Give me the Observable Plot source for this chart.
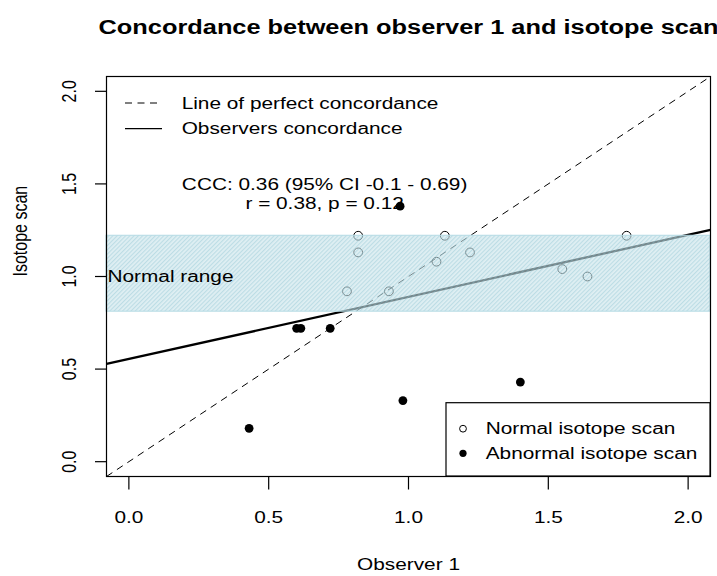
<!DOCTYPE html>
<html>
<head>
<meta charset="utf-8">
<script src="https://cdn.jsdelivr.net/npm/d3@7"></script>
<script src="https://cdn.jsdelivr.net/npm/@observablehq/plot@0.6"></script>
<style>
  body { margin: 0; background: #fff; }
  #chart svg { display: block; }
</style>
</head>
<body>
<div id="chart"></div>
<script>
// ---- data ----
const titleText = "Concordance between observer 1 and isotope scan";
const xLabel = "Observer 1";
const yLabel = "Isotope scan";
const xTicks = [0, 0.5, 1, 1.5, 2];
const yTicks = [0, 0.5, 1, 1.5, 2];
const axisDomain = [-0.08, 2.08];

const normalX = [0.82, 0.82, 1.13, 1.22, 1.10, 0.78, 0.93, 1.55, 1.64, 1.78];
const normalY = [1.22, 1.13, 1.22, 1.13, 1.08, 0.92, 0.92, 1.04, 1.00, 1.22];
const abnormalX = [0.97, 0.60, 0.615, 0.72, 1.40, 0.98, 0.43];
const abnormalY = [1.38, 0.72, 0.72, 0.72, 0.43, 0.33, 0.18];

const normalRange = [0.81, 1.22];
const bandLabel = "Normal range";
const bandLabelY = 1.0;

const regIntercept = 0.555;
const regSlope = 0.335;

const cccLines = ["CCC: 0.36 (95% CI -0.1 - 0.69)", "r = 0.38, p = 0.12"];
const cccX = 0.7;
const cccY = 1.45;

const lineLegend = ["Line of perfect concordance", "Observers concordance"];
const pointLegend = ["Normal isotope scan", "Abnormal isotope scan"];

// ---- derived tables ----
const normalPts = normalX.map((x, i) => ({x, y: normalY[i]}));
const abnormalPts = abnormalX.map((x, i) => ({x, y: abnormalY[i]}));
const identity = [{x1: axisDomain[0], y1: axisDomain[0], x2: axisDomain[1], y2: axisDomain[1]}];
const regLine = [{
  x1: axisDomain[0], y1: regIntercept + regSlope * axisDomain[0],
  x2: axisDomain[1], y2: regIntercept + regSlope * axisDomain[1]
}];

const FS = 16;
const fmt = d3.format(".1f");

function legends(index, scales, values, dim) {
  const g = d3.create("svg:g").attr("class", "legend-group");
  const L = dim.marginLeft, T = dim.marginTop;
  const R = dim.width - dim.marginRight, B = dim.height - dim.marginBottom;
  // top-left line legend (no box)
  const rows = [T + 27, T + 52.7];
  g.append("line").attr("x1", L + 19).attr("x2", L + 56).attr("y1", rows[0]).attr("y2", rows[0])
    .attr("stroke", "black").attr("stroke-width", 1).attr("stroke-dasharray", "7,5.5");
  g.append("line").attr("x1", L + 19).attr("x2", L + 56).attr("y1", rows[1]).attr("y2", rows[1])
    .attr("stroke", "black").attr("stroke-width", 1.2);
  lineLegend.forEach((s, i) => {
    g.append("text").attr("x", L + 75.7).attr("y", rows[i]).attr("dy", "0.35em")
      .attr("text-anchor", "start").attr("font-size", FS).attr("fill", "black").text(s);
  });
  // bottom-right point legend (boxed)
  const bx = 446, by = 402.7;
  g.append("rect").attr("x", bx).attr("y", by).attr("width", R - bx).attr("height", B - by)
    .attr("fill", "white").attr("stroke", "black").attr("stroke-width", 1.2);
  const prow = [428.7, 453.3];
  g.append("circle").attr("cx", 463).attr("cy", prow[0]).attr("r", 3.4)
    .attr("fill", "none").attr("stroke", "black").attr("stroke-width", 1);
  g.append("circle").attr("cx", 463).attr("cy", prow[1]).attr("r", 3.6)
    .attr("fill", "black");
  pointLegend.forEach((s, i) => {
    g.append("text").attr("x", 485.7).attr("y", prow[i]).attr("dy", "0.35em")
      .attr("text-anchor", "start").attr("font-size", FS).attr("fill", "black").text(s);
  });
  return g.node();
}

const plot = Plot.plot({
  width: 717,
  height: 576,
  marginLeft: 106,
  marginRight: 7,
  marginTop: 76,
  marginBottom: 100,
  style: {fontFamily: "'Liberation Sans', Arial, sans-serif", fontSize: "16px", background: "white", color: "black"},
  x: {domain: axisDomain, label: null},
  y: {domain: axisDomain, label: null},
  marks: [
    Plot.dot(normalPts, {x: "x", y: "y", r: 4.4, stroke: "black", fill: "none", strokeWidth: 1}),
    Plot.dot(abnormalPts, {x: "x", y: "y", r: 4.4, fill: "black", stroke: "none"}),
    Plot.link(identity, {x1: "x1", y1: "y1", x2: "x2", y2: "y2", stroke: "black", strokeWidth: 1, strokeDasharray: "7,5.5"}),
    Plot.link(regLine, {x1: "x1", y1: "y1", x2: "x2", y2: "y2", stroke: "black", strokeWidth: 2.3}),
    Plot.rect([normalRange], {x1: () => axisDomain[0], x2: () => axisDomain[1], y1: d => d[0], y2: d => d[1],
      fill: "#c8e3ea", fillOpacity: 0.75}),
    Plot.text([bandLabel], {y: () => bandLabelY, frameAnchor: "left", textAnchor: "start", dx: 1, fontSize: FS, fill: "black"}),
    Plot.text([cccLines.join("\n")], {x: () => cccX, y: () => cccY, fontSize: FS, lineHeight: 1.2, fill: "black"}),
    Plot.frame({stroke: "black", strokeWidth: 1.2}),
    Plot.axisX({ticks: xTicks, tickFormat: fmt, tickSize: 13.5, tickPadding: 21.6, fontSize: FS, strokeWidth: 1.2, label: null}),
    Plot.axisY({ticks: yTicks, tickFormat: fmt, tickSize: 11, tickPadding: 20, tickRotate: -90, fontSize: FS, strokeWidth: 1.2, label: null}),
    Plot.text([xLabel], {frameAnchor: "bottom", dy: 93, lineAnchor: "bottom", fontSize: FS, fill: "black"}),
    Plot.text([yLabel], {frameAnchor: "left", dx: -80, rotate: -90, lineAnchor: "bottom", fontSize: FS, fill: "black"}),
    Plot.text([titleText], {frameAnchor: "top", dy: -43, lineAnchor: "bottom", fontSize: 19.5, fontWeight: "bold", fill: "black"}),
    legends
  ]
});

document.getElementById("chart").appendChild(plot);

// hatched band pattern
const svgNS = "http://www.w3.org/2000/svg";
const defs = document.createElementNS(svgNS, "defs");
defs.innerHTML = '<pattern id="hatch" patternUnits="userSpaceOnUse" width="3" height="3" patternTransform="rotate(45)">' +
  '<rect width="3" height="3" fill="#c9e4eb" fill-opacity="0.78"/>' +
  '<line x1="0.6" y1="0" x2="0.6" y2="3" stroke="#a3d0db" stroke-width="1.1"/></pattern>';
plot.insertBefore(defs, plot.firstChild);
plot.querySelectorAll('g[aria-label="rect"] rect').forEach(r => {
  r.setAttribute("fill", "url(#hatch)");
  r.removeAttribute("fill-opacity");
  r.setAttribute("stroke", "#b5dbe4");
  r.setAttribute("stroke-width", "1");
});

// the reference image is stretched horizontally: widen glyphs to match
const S = 1.3;
plot.querySelectorAll("text").forEach(t => {
  const tr = t.getAttribute("transform") || "";
  if (tr.includes("rotate")) {
    t.setAttribute("transform", tr + " scale(1," + S + ")");
    return;
  }
  const spans = t.querySelectorAll("tspan");
  const targets = spans.length ? Array.from(spans) : [t];
  targets.forEach(el => {
    const len = el.getComputedTextLength();
    el.setAttribute("textLength", (len * S).toFixed(1));
    el.setAttribute("lengthAdjust", "spacingAndGlyphs");
  });
});
</script>
</body>
</html>
